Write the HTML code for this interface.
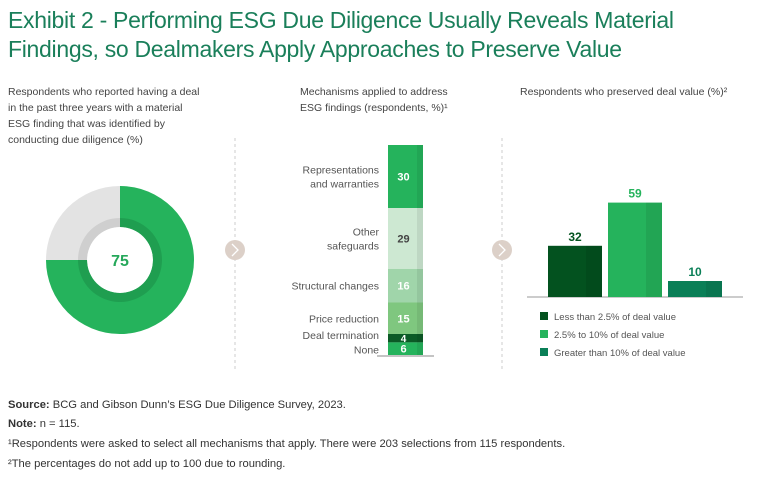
<!DOCTYPE html>
<html><head><meta charset="utf-8"><style>
body{margin:0;width:768px;height:481px;background:#fff;font-family:"Liberation Sans",sans-serif;overflow:hidden;position:relative}
.t{position:absolute;white-space:nowrap}
#title{left:8px;top:6px;font-size:23px;line-height:29px;color:#1a7f5a;letter-spacing:-0.3px}
.sub{font-size:10.5px;line-height:16px;color:#444}
.foot{font-size:11.2px;color:#333;left:8px}
</style></head><body>
<div id="title" class="t">Exhibit 2 - Performing ESG Due Diligence Usually Reveals Material<br>Findings, so Dealmakers Apply Approaches to Preserve Value</div>
<div class="t sub" style="left:8px;top:84px">Respondents who reported having a deal<br>in the past three years with a material<br>ESG finding that was identified by<br>conducting due diligence (%)</div>
<div class="t sub" style="left:300px;top:84px">Mechanisms applied to address<br>ESG findings (respondents, %)¹</div>
<div class="t sub" style="left:520px;top:84px">Respondents who preserved deal value (%)²</div>
<svg id="chart" width="768" height="481" style="position:absolute;left:0;top:0" xmlns="http://www.w3.org/2000/svg" font-family="Liberation Sans, sans-serif">
<g><line x1="235" y1="138" x2="235" y2="372" stroke="#ccc" stroke-dasharray="3,3"/><circle cx="235" cy="250" r="10" fill="#dcd0c8"/><path d="M232 244 L238 250 L232 256" fill="none" stroke="#fff" stroke-width="1.3"/></g>
<g><line x1="502" y1="138" x2="502" y2="372" stroke="#ccc" stroke-dasharray="3,3"/><circle cx="502" cy="250" r="10" fill="#dcd0c8"/><path d="M499 244 L505 250 L499 256" fill="none" stroke="#fff" stroke-width="1.3"/></g>
<g id="donut"></g><g id="stack"></g><g id="bars"></g>
</svg>
<div class="t foot" style="top:399px"><b>Source:</b> BCG and Gibson Dunn’s ESG Due Diligence Survey, 2023.</div>
<div class="t foot" style="top:418px"><b>Note:</b> n = 115.</div>
<div class="t foot" style="top:438px">¹Respondents were asked to select all mechanisms that apply. There were 203 selections from 115 respondents.</div>
<div class="t foot" style="top:458px">²The percentages do not add up to 100 due to rounding.</div>
<script>
const donutValue = 75;
const stackLabels = ["Representations\nand warranties","Other\nsafeguards","Structural changes","Price reduction","Deal termination","None"];
const stackValues = [30,29,16,15,4,6];
const barLabels = ["Less than 2.5% of deal value","2.5% to 10% of deal value","Greater than 10% of deal value"];
const barValues = [32,59,10];

const NS="http://www.w3.org/2000/svg";
function mk(tag,attrs,parent){const e=document.createElementNS(NS,tag);for(const k in attrs)e.setAttribute(k,attrs[k]);parent.appendChild(e);return e;}
const dg=document.getElementById('donut');
const cx=120,cy=260,R=74,r=33;
function arcPath(a0,a1,ro,ri){const p=(a,rr)=>[cx+rr*Math.sin(a),cy-rr*Math.cos(a)];const la=(a1-a0)>Math.PI?1:0;
const [x0,y0]=p(a0,ro),[x1,y1]=p(a1,ro),[x2,y2]=p(a1,ri),[x3,y3]=p(a0,ri);
return `M${x0} ${y0} A${ro} ${ro} 0 ${la} 1 ${x1} ${y1} L${x2} ${y2} A${ri} ${ri} 0 ${la} 0 ${x3} ${y3}Z`;}
const aV=donutValue/100*2*Math.PI;
let s=mk('path',{d:arcPath(0,aV,R,r),fill:'#25b35c'},dg);


s=mk('path',{d:arcPath(aV,2*Math.PI-0.0001,R,r),fill:'#e3e3e3'},dg);


mk('path',{d:arcPath(0,aV,42,r),fill:'#1f9e50'},dg);
mk('path',{d:arcPath(aV,2*Math.PI-0.0001,42,r),fill:'#cfcfcf'},dg);
s=mk('text',{x:cx,y:cy+6,'text-anchor':'middle','font-size':16,'font-weight':'bold',fill:'#25a85a'},dg);s.textContent=donutValue;


const sg=document.getElementById('stack');
const sColors=['#25b35c','#cde8d2','#a0d5aa','#7fc77f','#0b5a26','#25b35c'];
const sText=['#fff','#444','#fff','#fff','#fff','#fff'];
const total=stackValues.reduce((a,b)=>a+b,0);
const sTop=145,sBot=355,sx=388,sw=35;const k=(sBot-sTop)/total;
let y=sTop;
stackValues.forEach((v,i)=>{const h=v*k;
 const g=mk('g',{},sg);
 
 
 mk('rect',{x:sx,y:y,width:sw,height:h,fill:sColors[i]},g);
 mk('rect',{x:sx+sw-6,y:y,width:6,height:h,fill:'rgba(0,0,0,0.07)'},g);
 const t=mk('text',{x:sx+sw/2-2,y:y+h/2+4,'text-anchor':'middle','font-size':h<12?10:11,'font-weight':'bold',fill:sText[i]},g);t.textContent=v;
 const lines=stackLabels[i].split('\n');const lh=14;let ly=y+h/2+4-(lines.length-1)*lh/2;
 if(i===4)ly=y+h/2+1; if(i===5)ly=y+h/2+5;
 lines.forEach((ln,j)=>{const tt=mk('text',{x:379,y:ly+j*lh,'text-anchor':'end','font-size':10.5,fill:'#555'},g);tt.textContent=ln;});
 y+=h;});
mk('line',{x1:377,y1:sBot+1,x2:434,y2:sBot+1,stroke:'#888'},sg);
const bg=document.getElementById('bars');
const bColors=['#03521f','#25b35c','#0a7f57'];
const base=297,bx0=548,bw=54,gap=6,scale=1.6;
mk('line',{x1:527,y1:base,x2:743,y2:base,stroke:'#999'},bg);
barValues.forEach((v,i)=>{const x=bx0+i*(bw+gap),h=v*scale;
 const g=mk('g',{},bg);
 
 
 mk('rect',{x:x,y:base-h,width:bw,height:h,fill:bColors[i]},g);
 mk('rect',{x:x+bw-16,y:base-h,width:16,height:h,fill:'rgba(0,0,0,0.08)'},g);
 const t=mk('text',{x:x+bw/2,y:base-h-5,'text-anchor':'middle','font-size':12,'font-weight':'bold',fill:bColors[i]},g);t.textContent=v;
 const lg=mk('g',{},bg);
 
 
 mk('rect',{x:540,y:312+i*18,width:8,height:8,fill:bColors[i]},lg);
 const lt=mk('text',{x:554,y:320+i*18,'font-size':9.5,fill:'#555'},lg);lt.textContent=barLabels[i];
});
</script>
</body></html>
